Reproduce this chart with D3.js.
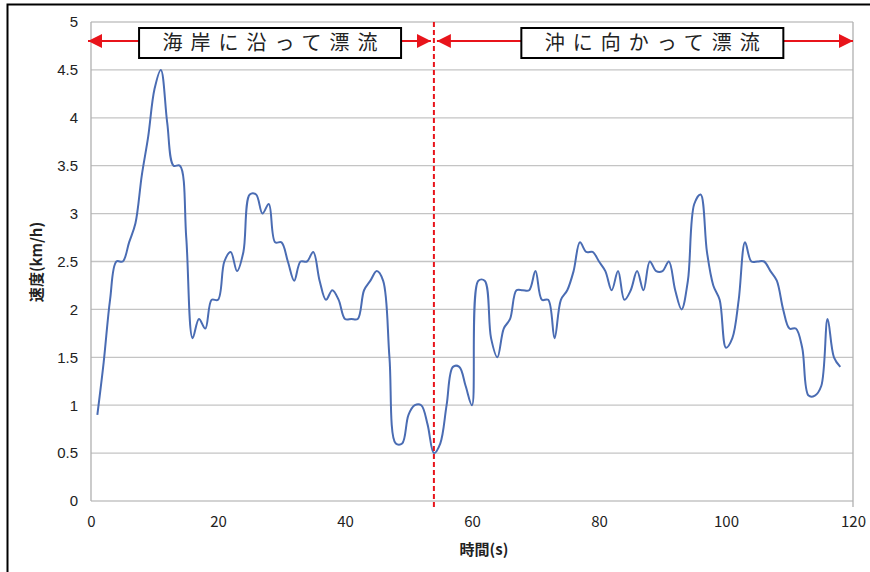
<!DOCTYPE html>
<html>
<head>
<meta charset="utf-8">
<script src="https://cdn.jsdelivr.net/npm/d3@7"></script>
<style>
  body { margin: 0; background: #fff; }
  svg { display: block; }
</style>
</head>
<body>
<script>
// time (s) and speed (km/h), one reading per second
var seconds = d3.range(1, 119);
var speeds = [
  0.9, 1.45, 2.1, 2.5, 2.5, 2.7, 2.9, 3.4, 3.8, 4.3,
  4.5, 3.95, 3.5, 3.5, 2.75, 1.7, 1.9, 1.8, 2.1, 2.1,
  2.5, 2.6, 2.4, 2.6, 3.2, 3.2, 3.0, 3.1, 2.7, 2.7,
  2.5, 2.3, 2.5, 2.5, 2.6, 2.3, 2.1, 2.2, 2.1, 1.9,
  1.9, 1.9, 2.2, 2.3, 2.4, 2.3, 1.5, 0.6, 0.6, 0.9,
  1.0, 1.0, 0.8, 0.5, 0.6, 1.0, 1.4, 1.4, 1.2, 1.0,
  2.3, 2.3, 1.7, 1.5, 1.8, 1.9, 2.2, 2.2, 2.2, 2.4,
  2.1, 2.1, 1.7, 2.1, 2.2, 2.4, 2.7, 2.6, 2.6, 2.5,
  2.4, 2.2, 2.4, 2.1, 2.2, 2.4, 2.2, 2.5, 2.4, 2.4,
  2.5, 2.2, 2.0, 2.3, 3.1, 3.2, 2.6, 2.25, 2.1, 1.6,
  1.7, 2.1, 2.7, 2.5, 2.5, 2.5, 2.4, 2.3, 2.0, 1.8,
  1.8, 1.6, 1.1, 1.1, 1.2, 1.9, 1.5, 1.4
];

var xTicks = [0, 20, 40, 60, 80, 100, 120];
var yTicks = [0, 0.5, 1, 1.5, 2, 2.5, 3, 3.5, 4, 4.5, 5];

// drift phases split at t = 54
var splitTime = 54;
var phaseLabels = ["海岸に沿って漂流", "沖に向かって漂流"];
var phaseStart = [0, 54];
var phaseEnd = [54, 120];
var phaseBoxCenter = [28.2, 88.4];

var svgWidth = 870;
var svgHeight = 572;

var chartMargin = { top: 22, right: 17, bottom: 71, left: 91 };
var chartWidth = svgWidth - chartMargin.left - chartMargin.right;
var chartHeight = svgHeight - chartMargin.top - chartMargin.bottom;

var svg = d3.select("body")
  .append("svg")
  .attr("width", svgWidth)
  .attr("height", svgHeight);

// outer black frame (cut off at right and bottom)
svg.append("rect")
  .attr("x", 7.5).attr("y", 4.5)
  .attr("width", svgWidth).attr("height", svgHeight)
  .attr("fill", "none")
  .attr("stroke", "#000")
  .attr("stroke-width", 2);

var chartGroup = svg.append("g")
  .attr("transform", `translate(${chartMargin.left}, ${chartMargin.top})`);

var x = d3.scaleLinear().domain([0, 120]).range([0, chartWidth]);
var y = d3.scaleLinear().domain([0, 5]).range([chartHeight, 0]);

// gridlines
chartGroup.append("g")
  .selectAll("line")
  .data(yTicks)
  .enter()
  .append("line")
  .attr("x1", 0).attr("x2", chartWidth)
  .attr("y1", d => y(d)).attr("y2", d => y(d))
  .attr("stroke", "#c4c4c4")
  .attr("stroke-width", 1.3);

// plot frame sides
chartGroup.append("line")
  .attr("x1", 0).attr("x2", 0).attr("y1", 0).attr("y2", chartHeight)
  .attr("stroke", "#b0b0b0").attr("stroke-width", 1.3);
chartGroup.append("line")
  .attr("x1", chartWidth).attr("x2", chartWidth).attr("y1", 0).attr("y2", chartHeight + 6)
  .attr("stroke", "#b0b0b0").attr("stroke-width", 1.3);

// axes
var leftAxis = d3.axisLeft(y).tickValues(yTicks).tickFormat(d3.format("~g")).tickSize(0).tickPadding(13);
var bottomAxis = d3.axisBottom(x).tickValues(xTicks).tickSize(0).tickPadding(15);

var gy = chartGroup.append("g").call(leftAxis);
gy.select(".domain").remove();
gy.selectAll("text")
  .attr("font-family", "Liberation Sans, Arial, sans-serif")
  .attr("font-size", 15)
  .attr("fill", "#222");

var gx = chartGroup.append("g")
  .attr("transform", `translate(0, ${chartHeight})`)
  .call(bottomAxis);
gx.select(".domain").remove();
gx.selectAll("text")
  .attr("font-family", "Noto Sans CJK JP, sans-serif")
  .attr("font-size", 15)
  .attr("fill", "#222");

// axis titles
svg.append("text")
  .attr("transform", "translate(42, 262) rotate(-90)")
  .attr("text-anchor", "middle")
  .attr("font-family", "Noto Sans CJK JP, sans-serif")
  .attr("font-weight", "bold")
  .attr("font-size", 15)
  .attr("fill", "#222")
  .text("速度(km/h)");

svg.append("text")
  .attr("x", chartMargin.left + x(60) + 12)
  .attr("y", 555)
  .attr("text-anchor", "middle")
  .attr("font-family", "Noto Sans CJK JP, sans-serif")
  .attr("font-weight", "bold")
  .attr("font-size", 15)
  .attr("fill", "#222")
  .text("時間(s)");

// speed line
var data = seconds.map((s, i) => ({ t: s, v: speeds[i] }));
var line = d3.line()
  .x(d => x(d.t))
  .y(d => y(d.v))
  .curve(d3.curveCatmullRom.alpha(0.5));

chartGroup.append("path")
  .datum(data)
  .attr("fill", "none")
  .attr("stroke", "#4a6cb3")
  .attr("stroke-width", 2)
  .attr("d", line);

// red dashed split line
chartGroup.append("line")
  .attr("x1", x(splitTime)).attr("x2", x(splitTime))
  .attr("y1", 0).attr("y2", chartHeight + 8)
  .attr("stroke", "#e8141b")
  .attr("stroke-width", 2)
  .attr("stroke-dasharray", "5,3");

// arrows with labels
var defs = svg.append("defs");
defs.append("marker")
  .attr("id", "head")
  .attr("viewBox", "0 0 14 14")
  .attr("refX", 14).attr("refY", 7)
  .attr("markerWidth", 14).attr("markerHeight", 14)
  .attr("markerUnits", "userSpaceOnUse")
  .attr("orient", "auto-start-reverse")
  .append("path")
  .attr("d", "M0,0 L14,7 L0,14 Z")
  .attr("fill", "#e8141b");

var arrowY = 19;
phaseLabels.forEach(function(label, i) {
  chartGroup.append("line")
    .attr("x1", x(phaseStart[i]) + (i === 0 ? -3 : 3))
    .attr("x2", x(phaseEnd[i]) + (i === 0 ? -3 : 0))
    .attr("y1", arrowY).attr("y2", arrowY)
    .attr("stroke", "#e8141b")
    .attr("stroke-width", 2)
    .attr("marker-start", "url(#head)")
    .attr("marker-end", "url(#head)");

  var cx = x(phaseBoxCenter[i]);
  chartGroup.append("rect")
    .attr("x", cx - 131).attr("y", arrowY - 13)
    .attr("width", 262).attr("height", 30)
    .attr("fill", "#fff")
    .attr("stroke", "#000")
    .attr("stroke-width", 2);

  chartGroup.append("text")
    .attr("x", cx + 4).attr("y", arrowY + 9)
    .attr("text-anchor", "middle")
    .attr("font-family", "Noto Sans CJK JP, sans-serif")
    .attr("font-size", 20)
    .attr("letter-spacing", 8)
    .attr("fill", "#222")
    .text(label);
});
</script>
</body>
</html>
